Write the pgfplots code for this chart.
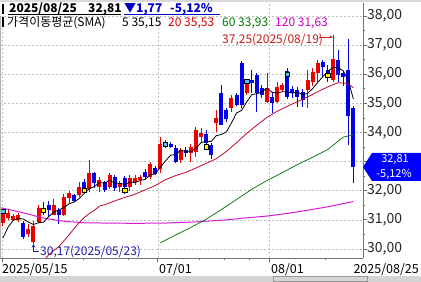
\documentclass[border=0pt]{standalone}
\usepackage{fontspec}
\setmainfont{Noto Sans CJK KR}
\usepackage{pgfplots}
\pgfplotsset{compat=1.18}
\usepackage{pgfplotstable}
\usetikzlibrary{arrows.meta}

\definecolor{cred}{RGB}{235,0,0}
\definecolor{cblue}{RGB}{0,0,235}
\definecolor{ma20}{RGB}{190,10,40}
\definecolor{ma60}{RGB}{30,120,30}
\definecolor{ma120}{RGB}{215,30,215}
\definecolor{hdrred}{RGB}{220,0,0}
\definecolor{hdrgreen}{RGB}{0,120,0}
\definecolor{hdrmag}{RGB}{200,0,200}
\definecolor{annred}{RGB}{205,25,25}
\definecolor{annblue}{RGB}{30,30,170}
\definecolor{boxblue}{RGB}{0,0,255}
\definecolor{hdrblue}{RGB}{0,0,200}

% up (red) candles: index open high low close
\pgfplotstableread{
i o h l c
0 30.90 31.30 30.80 31.24
1 31.05 31.35 30.98 31.22
2 31.00 31.20 30.95 31.12
3 30.98 31.22 30.92 31.16
5 30.50 30.85 30.40 30.70
6 30.25 30.95 30.17 30.80
7 30.93 31.50 30.88 31.40
10 31.17 31.70 31.15 31.50
12 31.17 31.90 31.12 31.80
13 31.75 32.00 31.55 31.92
15 31.85 32.30 31.80 32.13
17 32.05 33.05 31.95 32.60
19 32.13 32.47 31.95 32.37
21 32.13 32.60 32.05 32.54
23 32.13 32.35 31.95 32.27
25 32.13 32.55 32.00 32.44
26 32.30 32.55 32.20 32.44
27 32.37 32.55 32.20 32.47
29 32.47 33.00 32.40 32.92
31 32.75 33.85 32.60 33.60
35 33.05 33.45 32.95 33.40
37 33.30 33.62 33.00 33.50
38 33.33 34.20 33.15 34.08
39 33.85 34.15 33.64 33.98
42 34.33 34.77 34.00 34.50
45 34.84 35.30 34.70 35.20
48 35.36 35.85 35.30 35.70
52 35.05 36.04 35.00 35.53
54 35.05 35.75 35.00 35.55
55 35.46 35.70 35.40 35.63
60 35.46 36.15 34.84 35.80
61 35.73 36.20 35.60 36.08
62 36.04 36.50 35.73 36.39
65 35.80 37.25 35.73 36.52
}\upT

% down (blue) candles
\pgfplotstableread{
i o h l c
4 30.90 30.95 30.35 30.42
8 31.42 31.60 31.15 31.28
9 31.50 31.65 31.10 31.35
11 31.33 31.40 30.86 31.17
14 31.85 31.90 31.60 31.65
16 32.30 32.40 31.95 32.05
18 32.60 32.65 32.10 32.27
20 32.30 32.35 31.95 32.03
22 32.47 32.55 32.00 32.10
24 32.44 32.50 31.90 32.13
28 32.64 32.75 32.40 32.47
30 32.78 32.85 32.55 32.58
32 33.62 33.75 33.45 33.52
33 33.60 33.67 33.45 33.50
34 33.47 33.57 32.95 33.00
36 33.40 33.50 33.15 33.30
40 33.95 34.10 33.50 33.65
41 33.57 33.64 33.10 33.23
43 35.36 35.63 34.26 34.27
44 34.77 34.85 34.35 34.45
46 35.28 35.35 34.90 34.94
47 36.39 36.45 34.85 34.94
49 35.80 36.14 35.36 35.70
50 35.97 36.04 34.70 35.36
51 35.53 35.63 35.18 35.29
53 35.22 35.40 34.67 35.00
56 36.10 36.20 35.15 35.22
57 35.50 35.60 35.20 35.35
58 35.46 35.56 34.87 35.22
59 35.40 35.50 34.87 35.10
63 36.42 36.50 35.90 36.25
64 36.15 36.30 35.75 35.97
66 36.49 36.83 35.73 35.97
67 36.05 36.10 35.60 35.90
68 36.15 37.20 33.57 34.58
69 34.84 34.90 32.27 32.81
}\downT

\pgfplotstableread{
i v
0 30.38
1 30.75
2 30.98
3 31.05
4 31.03
5 30.92
6 30.84
7 30.90
8 30.92
9 31.11
10 31.27
11 31.34
12 31.42
13 31.55
14 31.61
15 31.73
16 31.91
17 32.07
18 32.14
19 32.28
20 32.26
21 32.36
22 32.26
23 32.26
24 32.21
25 32.30
26 32.28
27 32.35
28 32.39
29 32.55
30 32.58
31 32.81
32 33.02
33 33.22
34 33.24
35 33.40
36 33.34
37 33.34
38 33.46
39 33.65
40 33.70
41 33.69
42 33.89
43 33.93
44 34.02
45 34.33
46 34.67
47 34.76
48 35.05
49 35.30
50 35.33
51 35.40
52 35.52
53 35.38
54 35.35
55 35.40
56 35.39
57 35.35
58 35.39
59 35.30
60 35.34
61 35.51
62 35.72
63 35.92
64 36.10
65 36.24
66 36.22
67 36.12
68 35.79
69 35.15
}\maFive

\pgfplotstableread{
i v
6 29.10
7 29.35
8 29.60
9 29.80
10 29.95
11 30.08
12 30.28
13 30.48
14 30.70
15 30.90
16 31.08
17 31.22
18 31.33
19 31.47
20 31.52
22 31.65
24 31.77
26 31.88
28 32.03
30 32.18
32 32.38
34 32.52
36 32.63
38 32.78
40 32.94
42 33.10
44 33.35
46 33.65
48 33.97
50 34.25
52 34.52
54 34.73
56 34.90
58 35.06
60 35.22
62 35.40
64 35.57
66 35.71
68 35.68
69 35.53
}\maTwenty

\pgfplotstableread{
i v
31 30.21
34 30.48
37 30.74
40 31.02
43 31.35
46 31.70
49 32.05
52 32.35
55 32.62
58 32.90
61 33.15
64 33.42
66 33.70
67 33.84
68 33.88
69 33.93
}\maSixty

\pgfplotstableread{
i v
-0.6 31.42
0 31.40
4 31.24
8 31.06
12 30.95
16 30.90
20 30.89
26 30.88
32 30.89
38 30.93
44 31.00
48 31.07
52 31.13
56 31.22
60 31.33
64 31.45
69 31.63
}\maOneTwenty

\newcommand\hf{\fontsize{12bp}{12bp}\selectfont}
\newcommand\lf{\fontsize{12.5bp}{12.5bp}\selectfont}

\begin{document}
\begin{tikzpicture}
\useasboundingbox (0,0) rectangle (421bp,282bp);
\fill[white] (0,0) rectangle (421bp,282bp);
\begin{axis}[
  at={(0bp,24bp)}, anchor=south west,
  scale only axis, width=363bp, height=255bp,
  xmin=-0.59, xmax=70.9, ymin=29.69, ymax=38.446,
  axis x line*=bottom, axis y line*=right,
  axis line style={draw=black!55, line width=0.8bp},
  tick align=outside,
  major tick length=4bp, minor tick length=2.5bp,
  tick style={draw=black!60, line width=0.8bp},
  xtick={-0.2,30.5,52.4}, xticklabels={},
  minor xtick={15.8,24.6,38.6,43.7,48.5,63.4},
  ytick={30,31,32,34,35,36,37,38}, minor ytick={30.5,31.5,...,37.5},
  extra y ticks={33}, extra y tick labels={},
  yticklabel pos=right,
  ymajorgrids, xmajorgrids,
  major grid style={draw=black!25, dash pattern=on 2bp off 2bp, line width=0.6bp},
  yticklabel style={font=\fontsize{14bp}{14bp}\selectfont, text=black!85, inner sep=0pt, anchor=west,
    /pgf/number format/.cd, fixed, fixed zerofill, precision=2, use comma, assume math mode=true},
  every axis plot/.append style={forget plot},
]
% wicks
\addplot[draw=none, mark=none, error bars/.cd, y dir=plus, y explicit, error mark=none,
  error bar style={line width=1bp, draw=cred}]
  table[x=i, y=l, y error expr=\thisrow{h}-\thisrow{l}] {\upT};
\addplot[draw=none, mark=none, error bars/.cd, y dir=plus, y explicit, error mark=none,
  error bar style={line width=1bp, draw=cblue}]
  table[x=i, y=l, y error expr=\thisrow{h}-\thisrow{l}] {\downT};
% bodies
\addplot[draw=none, mark=none, error bars/.cd, y dir=plus, y explicit, error mark=none,
  error bar style={line width=4bp, draw=cred}]
  table[x=i, y=o, y error expr=\thisrow{c}-\thisrow{o}] {\upT};
\addplot[draw=none, mark=none, error bars/.cd, y dir=plus, y explicit, error mark=none,
  error bar style={line width=4bp, draw=cblue}]
  table[x=i, y=c, y error expr=\thisrow{o}-\thisrow{c}] {\downT};
% moving averages
\addplot[ma120, line width=1bp, mark=none] table[x=i, y=v] {\maOneTwenty};
\addplot[ma60, line width=0.8bp, mark=none] table[x=i, y=v] {\maSixty};
\addplot[ma20, line width=0.8bp, mark=none] table[x=i, y=v] {\maTwenty};
\addplot[black, line width=0.8bp, mark=none] table[x=i, y=v] {\maFive};
% signal markers
\addplot[only marks, mark=square*, mark size=2.2bp,
  mark options={fill=yellow, draw=black, line width=0.7bp}]
  coordinates {(8,31.33) (16,32.02) (24,32.02) (40,33.50) (64,35.97)};
\addplot[only marks, mark=square*, mark size=2.2bp,
  mark options={fill=cyan!70!white, draw=black, line width=0.7bp}]
  coordinates {(0,31.30) (32,33.60) (48,35.75) (56,36.00)};
\end{axis}

% frame extras
\draw[black!30, line width=0.8bp] (0.4bp,24bp) -- (0.4bp,279bp);
\fill[black!15] (0,279.5bp) rectangle (421bp,282bp);
\fill[black!17] (0,0) rectangle (421bp,6bp);
\draw[black!40, line width=0.6bp] (273bp,0.5bp) rectangle (367bp,5.5bp);

% header line 1
\fill[white] (0,266bp) rectangle (221bp,279.4bp);
\fill[black] (1.5bp,268bp) rectangle (3.5bp,278bp);
\node[anchor=base west, inner sep=0pt, font=\hf\bfseries] at (9bp,269bp) {2025/08/25};
\node[anchor=base west, inner sep=0pt, font=\hf\bfseries] at (88bp,269bp) {32,81};
\node[anchor=base west, inner sep=0pt, font=\hf\bfseries, text=hdrblue] at (124bp,269bp) {▼1,77};
\node[anchor=base west, inner sep=0pt, font=\hf\bfseries, text=hdrblue] at (170bp,269bp) {-5,12\%};
\draw[black, line width=0.9bp] (8bp,267.3bp) -- (121bp,267.3bp);
\draw[hdrblue, line width=0.9bp] (124bp,267.3bp) -- (220bp,267.3bp);

% header line 2
\fill[black] (1.5bp,255bp) rectangle (3.5bp,265bp);
\node[anchor=base west, inner sep=0pt, font=\hf] at (7bp,255bp) {가격이동평균(SMA)};
\node[anchor=base west, inner sep=0pt, font=\hf] at (122bp,255bp) {5 35,15};
\node[anchor=base west, inner sep=0pt, font=\hf, text=hdrred] at (168bp,255bp) {20 35,53};
\node[anchor=base west, inner sep=0pt, font=\hf, text=hdrgreen] at (222bp,255bp) {60 33,93};
\node[anchor=base west, inner sep=0pt, font=\hf, text=hdrmag] at (275bp,255bp) {120 31,63};

% max / min annotations
\node[anchor=base west, inner sep=0pt, font=\hf, text=annred] at (222bp,238bp) {37,25(2025/08/19)};
\draw[annred, line width=0.8bp, -{Stealth[length=3.5bp,width=3bp]}] (319bp,245bp) -- (333bp,245bp);
\draw[annred, line width=0.9bp] (333bp,247bp) -- (333bp,243bp);
\node[anchor=base west, inner sep=0pt, font=\hf, text=annblue] at (40bp,27bp) {30,17(2025/05/23)};
\draw[annblue, line width=0.8bp, -{Stealth[length=3.5bp,width=3.5bp]}] (39bp,31bp) -- (33.5bp,31bp) -- (33.5bp,38bp);

% x labels
\node[anchor=base west, inner sep=0pt, font=\lf] at (2bp,9bp) {2025/05/15};
\node[anchor=base west, inner sep=0pt, font=\lf] at (159bp,9bp) {07/01};
\node[anchor=base west, inner sep=0pt, font=\lf] at (271bp,9bp) {08/01};
\node[anchor=base east, inner sep=0pt, font=\lf] at (419bp,9bp) {2025/08/25};

% current price box
\fill[boxblue] (363bp,115bp) -- (372bp,129bp) -- (421bp,129bp) -- (421bp,101bp) -- (372bp,101bp) -- cycle;
\node[anchor=base, inner sep=0pt, font=\fontsize{11bp}{11bp}\selectfont, text=white] at (395bp,119.5bp) {32,81};
\node[anchor=base, inner sep=0pt, font=\fontsize{11bp}{11bp}\selectfont, text=white] at (394bp,104bp) {-5,12\%};
\end{tikzpicture}
\end{document}
